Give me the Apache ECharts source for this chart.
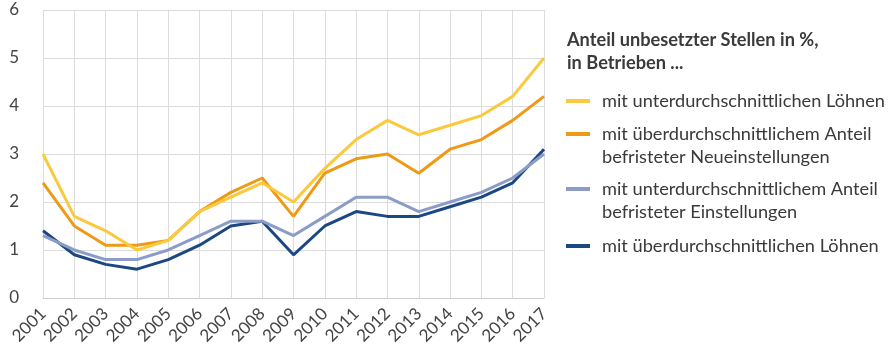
<!DOCTYPE html>
<html>
<head>
<meta charset="utf-8">
<script src="https://cdn.jsdelivr.net/npm/echarts@6/dist/echarts.min.js"></script>
<style>
  html, body { margin: 0; padding: 0; background: #ffffff; }
  #chart { width: 889px; height: 347px; }
</style>
</head>
<body>
<div id="chart"></div>
<script>
// Years on the horizontal axis
const years = ['2001','2002','2003','2004','2005','2006','2007','2008','2009',
               '2010','2011','2012','2013','2014','2015','2016','2017'];

// Share of unfilled vacancies in %, by type of establishment
const lowWages       = [3.0, 1.7, 1.4, 1.0, 1.2, 1.8, 2.1, 2.4, 2.0, 2.7, 3.3, 3.7, 3.4, 3.6, 3.8, 4.2, 5.0];
const highFixedTerm  = [2.4, 1.5, 1.1, 1.1, 1.2, 1.8, 2.2, 2.5, 1.7, 2.6, 2.9, 3.0, 2.6, 3.1, 3.3, 3.7, 4.2];
const lowFixedTerm   = [1.3, 1.0, 0.8, 0.8, 1.0, 1.3, 1.6, 1.6, 1.3, 1.7, 2.1, 2.1, 1.8, 2.0, 2.2, 2.5, 3.0];
const highWages      = [1.4, 0.9, 0.7, 0.6, 0.8, 1.1, 1.5, 1.6, 0.9, 1.5, 1.8, 1.7, 1.7, 1.9, 2.1, 2.4, 3.1];

const seriesNames = [
  'mit unterdurchschnittlichen Löhnen',
  'mit überdurchschnittlichem Anteil\nbefristeter Neueinstellungen',
  'mit unterdurchschnittlichem Anteil\nbefristeter Einstellungen',
  'mit überdurchschnittlichen Löhnen'
];
const legendTitle = 'Anteil unbesetzter Stellen in %,\nin Betrieben ...';
const yTicks = [0, 1, 2, 3, 4, 5, 6];

const colors = ['#fbc93d', '#ee9a15', '#8c9cc9', '#1b4883'];
const FONT = 'Lato';
const LEGEND_SIZE = 18.2;

const chart = echarts.init(document.getElementById('chart'), null, { renderer: 'canvas' });

const seriesData = [lowWages, highFixedTerm, lowFixedTerm, highWages];
// draw order: blue lines under the orange/yellow ones
const drawOrder = [3, 2, 1, 0];

// one legend per entry so each can be placed on its own; two-line entries
// get an empty leading line so the swatch sits beside their first line
const legendTops = [89.5, 99.5, 154.5, 234.5];
const legends = seriesNames.map((name, i) => {
  const twoLines = name.indexOf('\n') >= 0;
  return {
    left: 566,
    top: legendTops[i],
    orient: 'vertical',
    itemWidth: 24,
    itemHeight: 16,
    itemGap: 0,
    padding: 0,
    selectedMode: false,
    data: [{ name: name, icon: 'path://M0,0L24,0L24,4L0,4Z' }],
    formatter: n => (twoLines ? '\n' + n : n),
    itemStyle: { color: colors[i] },
    textStyle: {
      fontFamily: FONT,
      fontSize: LEGEND_SIZE,
      color: '#3a3a3a',
      lineHeight: 23,
      padding: [0, 0, 0, 7]
    }
  };
});

chart.setOption({
  animation: false,
  grid: { left: 43, right: 345, top: 10, bottom: 47, containLabel: false },
  graphic: [{
    type: 'text',
    left: 567,
    top: 29,
    style: {
      text: legendTitle,
      fontFamily: FONT,
      fontSize: LEGEND_SIZE,
      fontWeight: 'bold',
      fill: '#3a3a3a',
      lineHeight: 23
    }
  }],
  legend: legends,
  xAxis: {
    type: 'category',
    data: years,
    boundaryGap: false,
    axisLine: { show: true, lineStyle: { color: '#cfcfcf', width: 1 } },
    axisTick: { show: false },
    splitLine: { show: true, lineStyle: { color: '#dcdcdc', width: 1 } },
    axisLabel: {
      interval: 0,
      rotate: 45,
      margin: 13,
      fontFamily: FONT,
      fontSize: 17,
      color: '#444'
    }
  },
  yAxis: {
    type: 'value',
    min: 0,
    max: 6,
    interval: 1,
    axisLine: { show: false },
    axisTick: { show: false },
    splitLine: { show: true, lineStyle: { color: '#dcdcdc', width: 1 } },
    axisLabel: {
      margin: 24,
      fontFamily: FONT,
      fontSize: 17,
      color: '#444',
      formatter: v => (yTicks.indexOf(v) >= 0 ? String(v) : '')
    }
  },
  series: drawOrder.map(i => ({
    name: seriesNames[i],
    type: 'line',
    data: seriesData[i],
    symbol: 'none',
    smooth: false,
    lineStyle: { color: colors[i], width: 3 },
    itemStyle: { color: colors[i] },
    z: 10 - i
  }))
});
</script>
</body>
</html>
